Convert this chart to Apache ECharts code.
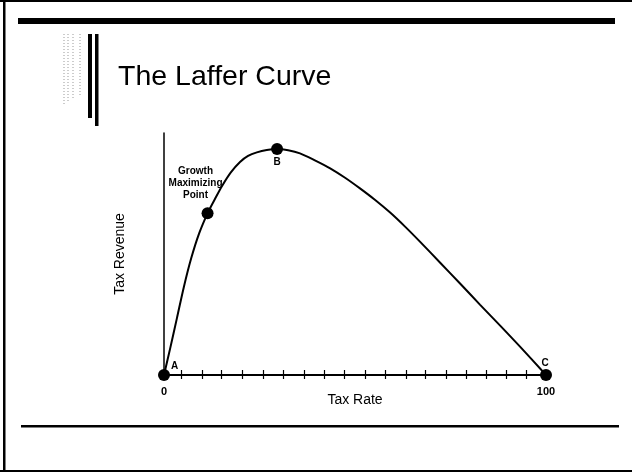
<!DOCTYPE html>
<html>
<head>
<meta charset="utf-8">
<script src="https://cdn.jsdelivr.net/npm/echarts@6/dist/echarts.min.js"></script>
<style>
html,body{margin:0;padding:0;background:#fff;}
#chart{width:632px;height:472px;}
</style>
</head>
<body>
<div id="chart"></div>
<script>
// Curve data (tax rate %, relative revenue)
const taxRate = [0, 1.6, 3.4, 5.2, 7.1, 9.2, 11.4, 13.4, 15.2, 17.5, 19.9, 22.0, 24.3, 26.9, 29.6, 32.5, 35.6, 39.5, 43.5, 47.4, 51.3, 55.2, 59.2, 63.1, 67.0, 72.3, 77.5, 82.7, 88.0, 93.2, 100];
const revenue = [0, 10.9, 23.6, 36.4, 48.1, 58.5, 66.8, 72.9, 78.1, 83.7, 88.0, 90.5, 92.0, 93.0, 93.4, 92.9, 91.6, 88.7, 85.4, 81.5, 77.1, 72.4, 67.1, 61.3, 55.1, 46.4, 37.8, 29.1, 20.4, 11.7, 0];
// Marked points
const pointX = [0, 11.4, 29.6, 100];
const pointY = [0, 66.8, 93.4, 0];
const pointLabels = ['A', 'Growth\nMaximizing\nPoint', 'B', 'C'];
// Axis ticks and labels
const tickValues = [4.4, 9.9, 15.1, 20.5, 26.0, 31.2, 36.6, 41.9, 47.2, 52.6, 57.9, 63.3, 68.5, 73.8, 79.2, 84.4, 89.7, 94.9];
const xLabelValues = [0, 100];
const titleText = 'The Laffer Curve';
const xName = 'Tax Rate';
const yName = 'Tax Revenue';

const FONT = "'Liberation Sans', Arial, Helvetica, sans-serif";
const labelStyles = [
  {position: 'right', offset: [-4, -9]},
  {position: 'left', offset: [-1, -30], align: 'center', lineHeight: 12, fontSize: 10},
  {position: 'bottom', offset: [0, -3]},
  {position: 'top', offset: [-1, 4]}
];
const pts = pointX.map((x, i) => ({
  value: [x, pointY[i]],
  label: Object.assign({show: true, formatter: pointLabels[i], color: '#000', fontWeight: 'bold', fontSize: 10, fontFamily: FONT}, labelStyles[i])
}));

const chart = echarts.init(document.getElementById('chart'), null, {renderer: 'canvas'});
const stipple = [];
[64, 68, 73, 80].forEach((x, i) => {
  stipple.push({type: 'line', shape: {x1: x, y1: 34, x2: x, y2: 104 - i * 3},
    style: {stroke: '#999', lineWidth: 1, lineDash: [1, 2]}});
});
chart.setOption({
  backgroundColor: '#fff',
  animation: false,
  title: {
    text: titleText, left: 113, top: 58,
    textStyle: {fontFamily: FONT, fontSize: 28.5, fontWeight: 'normal', color: '#000'}
  },
  grid: {left: 164, right: 86, top: 133, bottom: 97},
  xAxis: [{
    type: 'value', min: 0, max: 100, position: 'bottom',
    name: xName, nameLocation: 'middle', nameGap: 18, nameMoveOverlap: false,
    nameTextStyle: {fontFamily: FONT, fontSize: 14, color: '#000'},
    axisLine: {show: true, lineStyle: {color: '#000', width: 2}},
    axisTick: {show: true, customValues: tickValues, inside: true, length: 5, lineStyle: {color: '#000', width: 1.2}},
    axisLabel: {show: true, customValues: xLabelValues, margin: 11, color: '#000', fontWeight: 'bold', fontSize: 11, fontFamily: FONT},
    splitLine: {show: false}
  }, {
    type: 'value', min: 0, max: 100, position: 'bottom',
    axisLine: {show: false},
    axisTick: {show: true, customValues: tickValues, inside: false, length: 4, lineStyle: {color: '#000', width: 1.2}},
    axisLabel: {show: false},
    splitLine: {show: false}
  }],
  yAxis: {
    type: 'value', min: 0, max: 100,
    name: yName, nameLocation: 'middle', nameGap: 37, nameRotate: 90,
    nameTextStyle: {fontFamily: FONT, fontSize: 14, color: '#000'},
    axisLine: {show: true, lineStyle: {color: '#000', width: 1.5}},
    axisTick: {show: false},
    axisLabel: {show: false},
    splitLine: {show: false}
  },
  series: [{
    type: 'line',
    data: taxRate.map((x, i) => [x, revenue[i]]),
    smooth: 0.3,
    showSymbol: false,
    lineStyle: {color: '#000', width: 2},
    z: 2
  }, {
    type: 'scatter',
    data: pts,
    symbolSize: 12,
    itemStyle: {color: '#000', opacity: 1},
    z: 3
  }],
  graphic: [
    {type: 'rect', shape: {x: 0, y: 0, width: 632, height: 2}, style: {fill: '#000'}},
    {type: 'rect', shape: {x: 3, y: 0, width: 2.5, height: 472}, style: {fill: '#000'}},
    {type: 'rect', shape: {x: 0, y: 470, width: 632, height: 2}, style: {fill: '#000'}},
    {type: 'rect', shape: {x: 18, y: 18, width: 597, height: 6}, style: {fill: '#000'}},
    {type: 'rect', shape: {x: 21, y: 425, width: 598, height: 2.5}, style: {fill: '#000'}},
    {type: 'rect', shape: {x: 88, y: 34, width: 4, height: 84}, style: {fill: '#000'}},
    {type: 'rect', shape: {x: 95, y: 34, width: 3.5, height: 92}, style: {fill: '#000'}}
  ].concat(stipple)
});
</script>
</body>
</html>
